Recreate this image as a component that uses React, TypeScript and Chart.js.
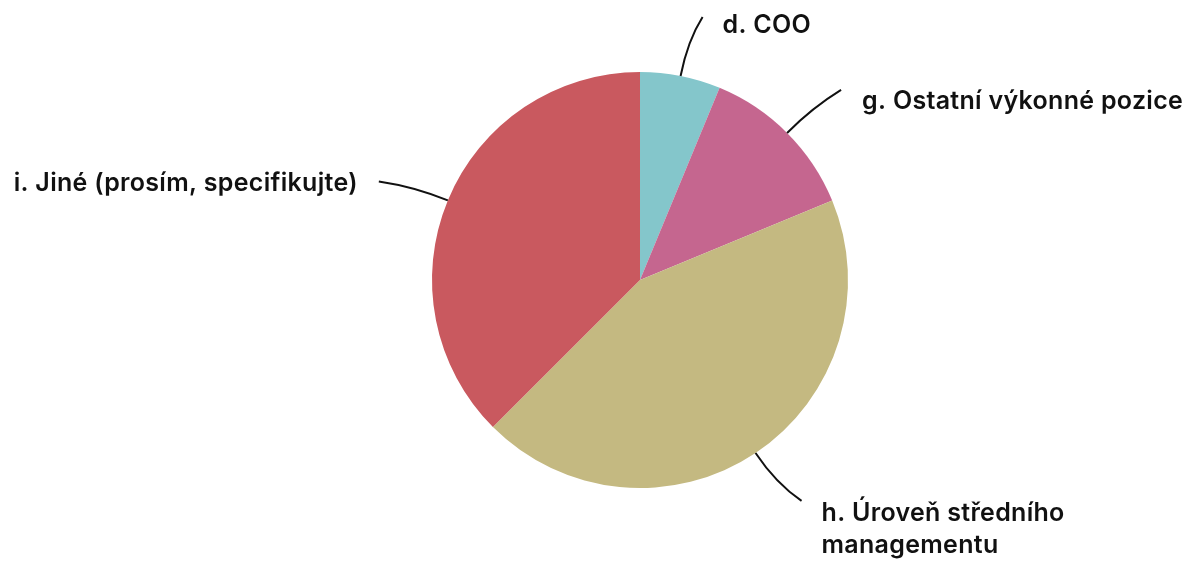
import React, { useEffect, useRef } from "react";
import { Chart, registerables } from "chart.js";

Chart.register(...registerables);

const categories = [
  "d. COO",
  "g. Ostatní výkonné pozice",
  "h. Úroveň středního managementu",
  "i. Jiné (prosím, specifikujte)",
];
const labelLines = [
  ["d. COO"],
  ["g. Ostatní výkonné pozice"],
  ["h. Úroveň středního", "managementu"],
  ["i. Jiné (prosím, specifikujte)"],
];
const values = [1, 2, 7, 6];
const colors = ["#84C6CB", "#C5668F", "#C4B981", "#C9595F"];

const FONT = "600 25px Inter, 'Noto Sans', sans-serif";

const leaderPlugin = {
  id: "leaders",
  afterDatasetsDraw(chart: any) {
    const ctx = chart.ctx as CanvasRenderingContext2D;
    const meta = chart.getDatasetMeta(0);
    ctx.save();
    ctx.font = FONT;
    try {
      (ctx as any).letterSpacing = "0.3px";
    } catch (e) {}
    ctx.fillStyle = "#111";
    ctx.strokeStyle = "#111";
    ctx.lineWidth = 2;
    ctx.textBaseline = "alphabetic";
    const ends = [
      { dx: 22, dy: -59, side: 1, tdx: 20, tdy: 16 },
      { dx: 54, dy: -43, side: 1, tdx: 21, tdy: 19 },
      { dx: 46, dy: 48, side: 1, tdx: 20, tdy: 20 },
      { dx: -69, dy: -19, side: -1, tdx: 21, tdy: 10 },
    ];
    meta.data.forEach((arc: any, i: number) => {
      const { x, y, startAngle, endAngle, outerRadius } = arc.getProps(
        ["x", "y", "startAngle", "endAngle", "outerRadius"],
        true
      );
      const mid = (startAngle + endAngle) / 2;
      const cx = Math.cos(mid);
      const cy = Math.sin(mid);
      const sx = x + cx * outerRadius;
      const sy = y + cy * outerRadius;
      const e = ends[i];
      const ex = sx + e.dx;
      const ey = sy + e.dy;
      const k = 36;
      ctx.beginPath();
      ctx.moveTo(sx, sy);
      ctx.quadraticCurveTo(sx + cx * k, sy + cy * k, ex, ey);
      ctx.stroke();
      const lines = labelLines[i];
      const lh = 32;
      const tx = e.side > 0 ? ex + e.tdx : ex - e.tdx;
      ctx.textAlign = e.side > 0 ? "left" : "right";
      const ty0 = ey + e.tdy;
      lines.forEach((ln, j) => {
        ctx.fillText(ln, tx, ty0 + j * lh);
      });
    });
    ctx.restore();
  },
};

export default function App() {
  const ref = useRef<HTMLCanvasElement>(null);
  useEffect(() => {
    if (!ref.current) return;
    const chart = new Chart(ref.current, {
      type: "pie",
      data: {
        labels: categories,
        datasets: [
          {
            data: values,
            backgroundColor: colors,
            borderWidth: 0,
          },
        ],
      },
      options: {
        animation: false,
        responsive: false,
        layout: { padding: { top: 72, bottom: 73, left: 200, right: 103 } },
        plugins: {
          legend: { display: false },
          tooltip: { enabled: false },
        },
      },
      plugins: [leaderPlugin],
    });
    return () => chart.destroy();
  }, []);
  return (
    <div style={{ position: "fixed", left: 0, top: 0, width: 1183, height: 561, background: "#fff" }}>
      <canvas ref={ref} width={1183} height={561} style={{ width: 1183, height: 561 }} />
    </div>
  );
}
